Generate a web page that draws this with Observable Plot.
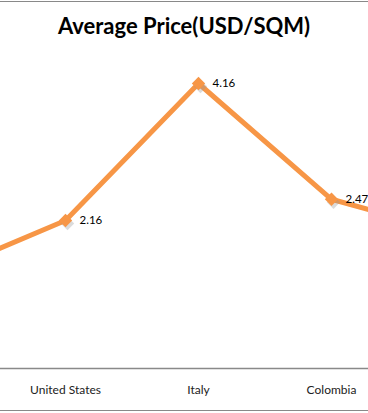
<!DOCTYPE html>
<html><head><meta charset="utf-8">
<script src="https://cdn.jsdelivr.net/npm/d3@7"></script>
<script src="https://cdn.jsdelivr.net/npm/@observablehq/plot@0.6"></script>
<style>
body{margin:0;background:#fff;width:368px;height:413px;overflow:hidden;font-family:Lato,"Open Sans",sans-serif;}
#title{box-sizing:border-box;height:50px;border-top:1px solid #898989;margin-top:1px;padding-top:12px;text-align:center;font-weight:bold;font-size:22px;color:#000;line-height:24px;}
#chart svg{overflow:hidden;display:block;}
</style></head>
<body>
<div id="title">Average Price(USD/SQM)</div>
<div id="chart"></div>
<script>
// categories: first and last are neighbours cropped out of view
const categories = ["prev", "United States", "Italy", "Colombia", "next"];
const values = [1.34, 2.16, 4.16, 2.47, 1.93];
const shownLabels = ["United States", "Italy", "Colombia"];

const data = categories.map((c, i) => ({category: c, value: values[i]}));
const shown = data.filter(d => shownLabels.includes(d.category));
const orange = "#f79646";

const plot = Plot.plot({
  width: 368,
  height: 362,
  marginLeft: 0, marginRight: 0, marginTop: 0, marginBottom: 0,
  style: {fontFamily: "Lato, 'Open Sans', sans-serif", background: "#fff", overflow: "hidden"},
  x: {type: "point", domain: categories, range: [-69, 465], padding: 0, axis: null},
  y: {domain: [0, 4.16], range: [317, 32], axis: null},
  marks: [
    Plot.ruleY([0], {stroke: "#898989", strokeWidth: 1.3}),
    Plot.text(shown, {x: "category", y: 0, text: "category", dy: 22, fontSize: 12, fill: "#222"}),
    Plot.line(data, {x: "category", y: "value", stroke: orange, strokeWidth: 5}),
    Plot.dot(shown, {x: "category", y: "value", symbol: "diamond2", r: 6, fill: "#999", fillOpacity: 0.35, dx: 2, dy: 3, stroke: "none"}),
    Plot.dot(shown, {x: "category", y: "value", symbol: "diamond2", r: 6, fill: orange, stroke: "none"}),
    Plot.text(shown, {x: "category", y: "value", text: d => d.value.toFixed(2), textAnchor: "start", dx: 14, fontSize: 11.5, fill: "#000"})
  ]
});
document.getElementById("chart").appendChild(plot);
const bottom = document.createElement("div");
bottom.style.cssText = "position:absolute;left:0;top:410px;width:368px;height:0;border-top:1px solid #898989;";
document.body.appendChild(bottom);
</script>
</body></html>
